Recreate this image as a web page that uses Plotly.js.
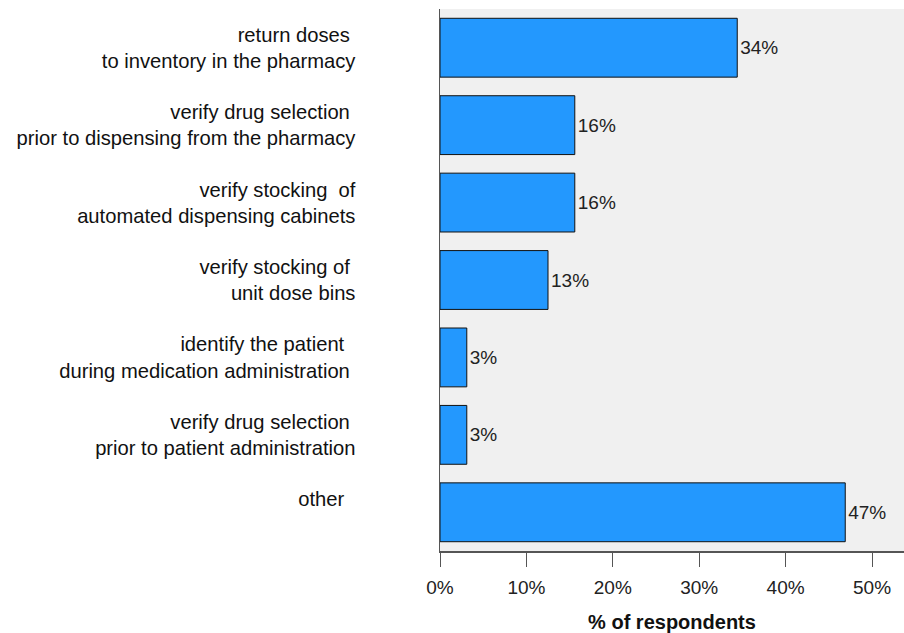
<!DOCTYPE html>
<html>
<head>
<meta charset="utf-8">
<script src="https://cdn.plot.ly/plotly-3.0.1.min.js"></script>
<style>html,body{margin:0;padding:0;background:#fff;}#chart{width:904px;height:633px;}</style>
</head>
<body>
<div id="chart"></div>
<script>
var categories = [
  "return doses\u00a0<br>to inventory in the pharmacy",
  "verify drug selection\u00a0<br>prior to dispensing from the pharmacy",
  "verify stocking\u00a0 of<br>automated dispensing cabinets",
  "verify stocking of\u00a0<br>unit dose bins",
  "identify the patient\u00a0\u00a0<br>during medication administration\u00a0",
  "verify drug selection\u00a0<br>prior to patient administration",
  "other\u00a0\u00a0<br>\u00a0"
];
var percentValues = [34.4, 15.6, 15.6, 12.5, 3.1, 3.1, 46.9];
var valueLabels = percentValues.map(function (v) { return Math.round(v) + "%"; });
var tickValues = [0, 10, 20, 30, 40, 50];
var tickLabels = ["0%", "10%", "20%", "30%", "40%", "50%"];

var trace = {
  type: "bar",
  orientation: "h",
  y: categories,
  x: percentValues,
  text: valueLabels,
  textposition: "outside",
  textangle: 0,
  cliponaxis: false,
  textfont: {family: "Liberation Sans, Arial, sans-serif", size: 19, color: "#222"},
  width: 0.76,
  marker: {color: "#2398FE", line: {color: "#111", width: 1}},
  hoverinfo: "none"
};

var layout = {
  width: 904,
  height: 633,
  margin: {l: 440, r: 0, t: 9, b: 82, pad: 0},
  paper_bgcolor: "#ffffff",
  plot_bgcolor: "#f0f0f0",
  showlegend: false,
  font: {family: "Liberation Sans, Arial, sans-serif", size: 20, color: "#111"},
  xaxis: {
    range: [0, 53.7],
    tickvals: tickValues,
    ticktext: tickLabels,
    ticks: "outside",
    ticklen: 14,
    tickwidth: 1,
    tickcolor: "#555",
    ticklabelstandoff: 5,
    showline: true,
    linecolor: "#555",
    linewidth: 1.5,
    showgrid: false,
    zeroline: false,
    tickfont: {size: 19, color: "#222"},
    title: {text: "<b>% of respondents</b>", font: {size: 20, color: "#111"}, standoff: 18},
    fixedrange: true
  },
  yaxis: {
    type: "category",
    autorange: "reversed",
    showline: true,
    linecolor: "#555",
    linewidth: 1.5,
    ticks: "",
    showgrid: false,
    zeroline: false,
    ticklabelstandoff: 79,
    tickfont: {size: 20.2, color: "#111"},
    fixedrange: true
  }
};

Plotly.newPlot("chart", [trace], layout, {displayModeBar: false, staticPlot: true});
</script>
</body>
</html>
